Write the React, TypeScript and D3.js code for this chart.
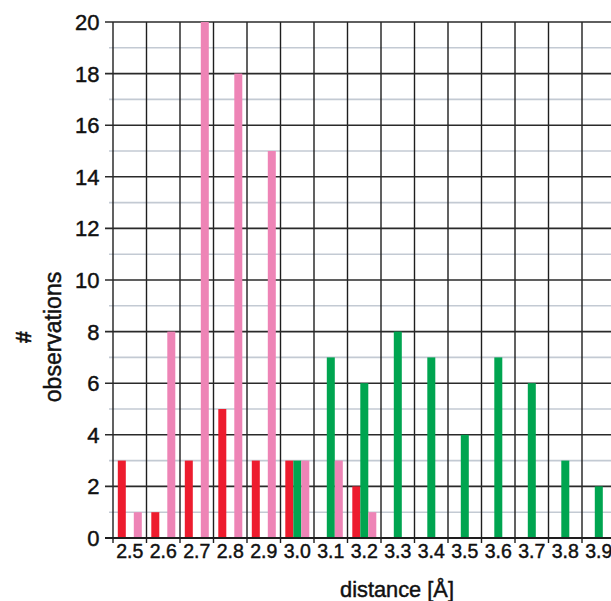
import React from "react";
import * as d3 from "d3";

const categories = ["2.5","2.6","2.7","2.8","2.9","3.0","3.1","3.2","3.3","3.4","3.5","3.6","3.7","3.8","3.9"];
const seriesNames = ["red","green","pink"];
const redValues = [3,1,3,5,3,3,0,2,0,0,0,0,0,0,0];
const greenValues = [0,0,0,0,0,3,7,6,8,7,4,7,6,3,2];
const pinkValues = [1,8,20,18,15,3,3,1,0,0,0,0,0,0,0];
const yMajorTicks = [0,2,4,6,8,10,12,14,16,18,20];
const yMinorTicks = [1,3,5,7,9,11,13,15,17,19];
const colors: Record<string,string> = { red: "#ed1c2e", green: "#00a550", pink: "#ee84b6" };

export default function App() {
  const W = 611, H = 601;
  const left = 113, top = 22, bottom = 538;
  const step = 33.5;
  const x = d3.scaleBand<string>().domain(categories).range([left, left + step * categories.length]).padding(0);
  const x1 = d3.scaleBand<string>().domain(seriesNames).range([4.8, 28.8]).padding(0);
  const y = d3.scaleLinear().domain([0, 20]).range([bottom, top]);
  const valuesBy: Record<string, number[]> = { red: redValues, green: greenValues, pink: pinkValues };
  const font = "'Liberation Sans', Arial, sans-serif";
  const boundaries = d3.range(categories.length + 1).map(i => left + i * x.bandwidth());

  return (
    <svg width={W} height={H} style={{ position: "absolute", left: 0, top: 0, background: "#fff" }} fontFamily={font}>
      {yMinorTicks.map(t => (
        <line key={"mn" + t} x1={109} x2={W} y1={y(t)} y2={y(t)} stroke="#c3cad3" strokeWidth={1.6} />
      ))}
      {boundaries.map((bx, i) => (
        <line key={"v" + i} x1={bx} x2={bx} y1={top} y2={bottom + 5} stroke="#1e1e1e" strokeWidth={1.4} />
      ))}
      {yMajorTicks.map(t => (
        <line key={"mj" + t} x1={105} x2={W} y1={y(t)} y2={y(t)} stroke="#2a2a2a" strokeWidth={1.6} />
      ))}
      {seriesNames.map(s => (
        <g key={s}>
          {categories.map((c, i) => {
            const v = valuesBy[s][i];
            if (!v) return null;
            return (
              <rect key={c} x={(x(c) as number) + (x1(s) as number)} width={x1.bandwidth()}
                y={y(v)} height={y(0) - y(v)} fill={colors[s]} />
            );
          })}
        </g>
      ))}
      <line x1={105} x2={W} y1={y(0)} y2={y(0)} stroke="#1e1e1e" strokeWidth={1.8} />
      <g fill="#111" stroke="#111" strokeWidth={0.45}>
        {yMajorTicks.map(t => (
          <text key={"yl" + t} x={99.5} y={y(t)} dy="0.36em" textAnchor="end" fontSize={22}>{t}</text>
        ))}
        {categories.map(c => (
          <text key={"xl" + c} x={(x(c) as number) + x.bandwidth() / 2} y={558} textAnchor="middle" fontSize={19.5}>{c}</text>
        ))}
        <text x={397} y={597} textAnchor="middle" fontSize={21.8}>distance [Å]</text>
        <text transform="translate(31,337) rotate(-90)" textAnchor="middle" fontSize={22} fontWeight="bold">#</text>
        <text transform="translate(61,337) rotate(-90)" textAnchor="middle" fontSize={23}>observations</text>
      </g>
    </svg>
  );
}
